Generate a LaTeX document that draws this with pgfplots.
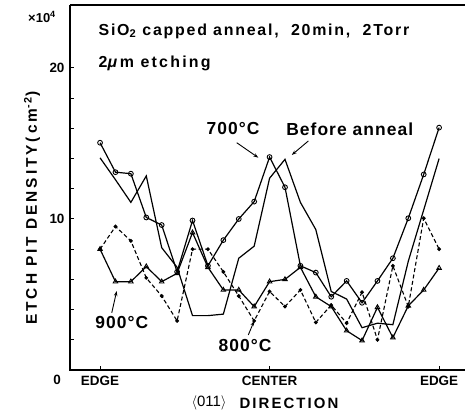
\documentclass[border=0pt]{standalone}
\usepackage{fontspec}
\setmainfont{Liberation Sans}
\newfontfamily\wide{Liberation Sans}[LetterSpace=6]
\newfontfamily\titlefont{Liberation Sans}[LetterSpace=11]
\newfontfamily\wider{Liberation Sans}[LetterSpace=14]
\newfontfamily\widest{Liberation Sans}[LetterSpace=19]
\usepackage{pgfplots}
\pgfplotsset{compat=1.18}
\usetikzlibrary{arrows.meta}

\pgfplotstableread{
x before c700 c900 c800
0 14.05 15.05 8.0 8.0
1 12.6 13.1 5.85 9.5
2 11.1 13.0 5.85 8.55
3 12.85 10.1 6.85 6.1
4 8.1 9.6 5.85 4.9
5 6.8 6.5 6.4 3.25
6 3.6 9.9 9.1 8.0
7 3.6 6.9 6.8 8.0
8 3.7 8.6 5.3 6.5
9 7.4 10.0 5.3 4.9
10 8.2 11.15 4.2 3.25
11 12.7 14.1 5.85 5.2
12 13.95 12.1 6.0 4.2
13 11.1 6.9 6.8 5.3
14 9.3 6.45 4.85 3.15
15 5.2 4.85 4.2 4.3
16 4.7 5.9 2.6 3.1
17 2.8 4.45 1.95 5.15
18 3.1 5.9 4.15 2.0
19 3.0 7.4 2.15 6.9
20 7.2 10.05 4.25 4.2
21 10.6 12.95 5.3 10.05
22 14.0 16.05 6.75 8.0
}\datatable

\begin{document}
\begin{tikzpicture}
\useasboundingbox (0,0) rectangle (467bp,414bp);
\begin{axis}[at={(70bp,44bp)}, anchor=south west, scale only axis,
  width=395bp, height=365bp,
  xmin=-1.95, xmax=23.68, ymin=0, ymax=24.17,
  axis line style={draw=none},
  xtick={0,11,22}, xticklabels={EDGE,CENTER,EDGE},
  ytick={10,20}, minor ytick={2,4,6,8,12,14,16,18},
  tick align=inside, major tick length=4bp, minor tick length=4bp,
  every tick/.style={black, line width=1bp},
  xtick pos=left, ytick pos=left,
  xticklabel style={font=\bfseries\fontsize{13.5}{13.5}\selectfont, yshift=-3bp},
  yticklabel style={font=\bfseries\fontsize{13.5}{13.5}\selectfont, xshift=-2bp},
  /pgf/number format/assume math mode=true,
  clip=false]
\draw[line width=1.4bp] (rel axis cs:0,1) -- (rel axis cs:0,0) -- (rel axis cs:1,0);
\draw[line width=1.4bp] (rel axis cs:0,1) -- (rel axis cs:1,1);

\addplot[black, line width=1.2bp, no marks] table[x=x, y=before] {\datatable};
\addplot[black, line width=1.2bp, mark=o, mark size=2.4bp, mark options={solid, fill=white, line width=0.9bp}] table[x=x, y=c700] {\datatable};
\addplot[black, line width=1.2bp, mark=triangle, mark size=2.6bp, mark options={solid, fill=white, line width=0.9bp}] table[x=x, y=c900] {\datatable};
\addplot[black, line width=1.1bp, dash pattern=on 4bp off 2.5bp, mark=*, mark size=1.3bp, mark options={solid}] table[x=x, y=c800] {\datatable};

\node[anchor=west, font=\bfseries\titlefont\fontsize{16}{16}\selectfont] at (axis cs:-0.32,22.45) {SiO\textsubscript{2} capped anneal,\ \ 20min,\ \ 2Torr};
\node[anchor=west, font=\bfseries\wider\fontsize{16}{16}\selectfont] at (axis cs:-0.32,20.33) {2{\itshape μ}\,m etching};

\node[font=\bfseries\wide\fontsize{17.5}{17.5}\selectfont] at (axis cs:8.63,15.96) {700\textdegree C};
\node[font=\bfseries\wide\fontsize{17.5}{17.5}\selectfont] at (axis cs:16.2,15.96) {Before anneal};
\node[font=\bfseries\wide\fontsize{17.5}{17.5}\selectfont] at (axis cs:1.41,3.13) {900\textdegree C};
\node[font=\bfseries\wide\fontsize{17.5}{17.5}\selectfont] at (axis cs:9.41,1.59) {800\textdegree C};

\draw[-{Stealth[length=5bp,width=3.5bp]}, line width=0.9bp] (axis cs:8.87,15.05) -- (axis cs:10.27,14.06);
\draw[-{Stealth[length=5bp,width=3.5bp]}, line width=0.9bp] (axis cs:13.52,15.17) -- (axis cs:12.44,14.24);
\draw[-{Stealth[length=5bp,width=3.5bp]}, line width=0.9bp] (axis cs:0.76,3.79) -- (axis cs:1.08,5.23);
\draw[-{Stealth[length=5bp,width=3.5bp]}, line width=0.9bp] (axis cs:9.62,2.32) -- (axis cs:10.0,3.25);
\end{axis}

\node[font=\bfseries\fontsize{13.5}{13.5}\selectfont] at (57bp,34bp) {0};
\node[font=\bfseries\fontsize{13}{13}\selectfont] at (42bp,397bp) {\texttimes10\textsuperscript{4}};
\node[rotate=90, font=\bfseries\widest\fontsize{15.5}{15.5}\selectfont] at (32bp,206bp) {ETCH PIT DENSITY(cm\textsuperscript{-2})};
\node[font=\fontsize{15}{15}\selectfont] at (209bp,11bp) {$\langle$011$\rangle$};
\node[font=\bfseries\wider\fontsize{15}{15}\selectfont, anchor=west] at (236bp,11bp) {DIRECTION};
\end{tikzpicture}
\end{document}
